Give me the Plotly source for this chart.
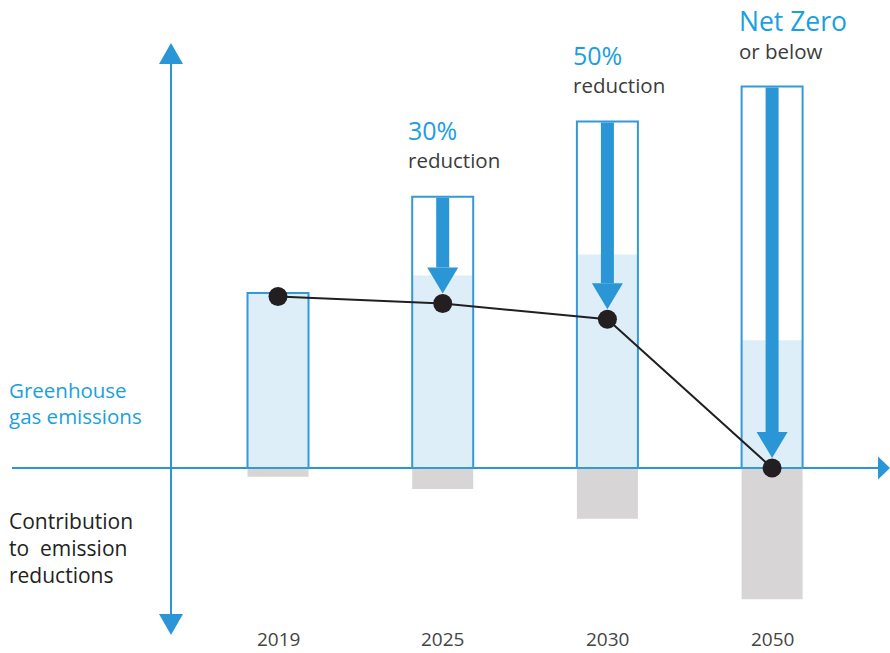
import plotly.graph_objects as go

# ---- data (conceptual units, 2019 bar = 100) ----
years = ["2019", "2025", "2030", "2050"]
emissions = [98, 94, 85, 0]              # black dots / trajectory
bar_outline = [100, 155, 198, 218]       # outlined bar heights
bar_fill = [100, 110, 122, 73]           # light-blue filled part
contribution = [-5, -12, -29, -75]       # grey bars below the axis
target_big = ["", "30%", "50%", "Net Zero"]
target_small = ["", "reduction", "reduction", "or below"]
left_top = ["Greenhouse", "gas emissions"]
left_bottom = ["Contribution", "to  emission", "reductions"]

# ---- geometry helpers ----
W, H = 890, 653
PX_X, X0PX = 164.7, 278.0
PX_Y, Y0PX = 1.75, 468.0
def xd(px): return (px - X0PX) / PX_X
def yd(py): return (Y0PX - py) / PX_Y
def dx(p): return p / PX_X
def dy(p): return p / PX_Y

BLUE = "#2b96d6"
OUTLINE = "#3399d9"
FILL = "#ddeef9"
GREY = "#d7d5d6"
DOT = "#231f20"
TXTBLUE = "#1aa0e0"
TXTGREY = "#3c3c3c"
FONT = "Open Sans"

hw = dx(30.5)
shapes = []
xs = list(range(len(years)))
for i in xs:
    shapes.append(dict(type="rect", xref="x", yref="y", x0=i - hw, x1=i + hw, y0=0, y1=bar_fill[i],
                       fillcolor=FILL, line=dict(width=0), layer="below"))
    shapes.append(dict(type="rect", xref="x", yref="y", x0=i - hw, x1=i + hw, y0=contribution[i], y1=0,
                       fillcolor=GREY, line=dict(width=0), layer="below"))

# axes
shapes.append(dict(type="line", xref="x", yref="y", x0=xd(12), x1=xd(879), y0=0, y1=0,
                   line=dict(color=BLUE, width=2), layer="below"))
shapes.append(dict(type="path", xref="x", yref="y",
                   path=f"M{xd(878)},{dy(11.5)} L{xd(890)},0 L{xd(878)},{-dy(11.5)} Z",
                   fillcolor=BLUE, line=dict(width=0), layer="below"))
vx = xd(171)
shapes.append(dict(type="line", xref="x", yref="y", x0=vx, x1=vx, y0=yd(62), y1=yd(616),
                   line=dict(color=BLUE, width=2), layer="below"))
shapes.append(dict(type="path", xref="x", yref="y",
                   path=f"M{vx - dx(12)},{yd(64)} L{vx},{yd(43)} L{vx + dx(12)},{yd(64)} Z",
                   fillcolor=BLUE, line=dict(width=0), layer="below"))
shapes.append(dict(type="path", xref="x", yref="y",
                   path=f"M{vx - dx(12)},{yd(614)} L{vx},{yd(635)} L{vx + dx(12)},{yd(614)} Z",
                   fillcolor=BLUE, line=dict(width=0), layer="below"))

# bar outlines
for i in xs:
    shapes.append(dict(type="rect", xref="x", yref="y", x0=i - hw, x1=i + hw, y0=0, y1=bar_outline[i],
                       fillcolor="rgba(0,0,0,0)", line=dict(color=OUTLINE, width=2), layer="below"))

# reduction arrows
for i in xs:
    if bar_outline[i] <= emissions[i] + 5:
        continue
    tip = emissions[i] + dy(10)
    base = tip + dy(26)
    shapes.append(dict(type="rect", xref="x", yref="y", x0=i - dx(6.5), x1=i + dx(6.5),
                       y0=base, y1=bar_outline[i] - dy(1),
                       fillcolor=BLUE, line=dict(width=0), layer="below"))
    shapes.append(dict(type="path", xref="x", yref="y",
                       path=f"M{i - dx(15.5)},{base} L{i},{tip} L{i + dx(15.5)},{base} Z",
                       fillcolor=BLUE, line=dict(width=0), layer="below"))

fig = go.Figure()
fig.add_trace(go.Scatter(x=xs, y=emissions, mode="lines+markers",
                         line=dict(color=DOT, width=2),
                         marker=dict(color=DOT, size=19), hoverinfo="skip", showlegend=False))

ann = []
def txt(t, px, py, size, color, anchor="left"):
    ann.append(dict(text=t, xref="paper", yref="paper", x=px / W, y=1 - py / H,
                    xanchor=anchor, yanchor="middle", showarrow=False,
                    font=dict(family=FONT, size=size, color=color)))

big_pos = {1: (406, 130), 2: (571, 55), 3: (737, 21)}
big_size = {1: 25, 2: 25, 3: 26.5}
for i in xs:
    if not target_big[i]:
        continue
    bx, by = big_pos[i]
    txt(target_big[i], bx, by, big_size[i], TXTBLUE)
    txt(target_small[i], bx, by + 30, 20.5, TXTGREY)

for k, t in enumerate(left_top):
    txt(t, 7, 390 + 26 * k, 20.5, TXTBLUE)
for k, t in enumerate(left_bottom):
    txt(t, 7, 521 + 27 * k, 21, "#222222")

for i in xs:
    ann.append(dict(text=years[i], xref="x", yref="paper", x=i, y=1 - 639 / H,
                    xanchor="center", yanchor="middle", showarrow=False,
                    font=dict(family=FONT, size=19, color="#444444")))

fig.update_layout(
    width=W, height=H, margin=dict(l=0, r=0, t=0, b=0),
    paper_bgcolor="white", plot_bgcolor="white",
    xaxis=dict(range=[xd(0), xd(W)], visible=False, fixedrange=True),
    yaxis=dict(range=[yd(H), yd(0)], visible=False, fixedrange=True),
    shapes=shapes, annotations=ann, showlegend=False,
)
fig.write_html("out.html", config={"displayModeBar": False},
               post_script="document.body.style.margin='0';document.body.style.overflow='hidden';")
